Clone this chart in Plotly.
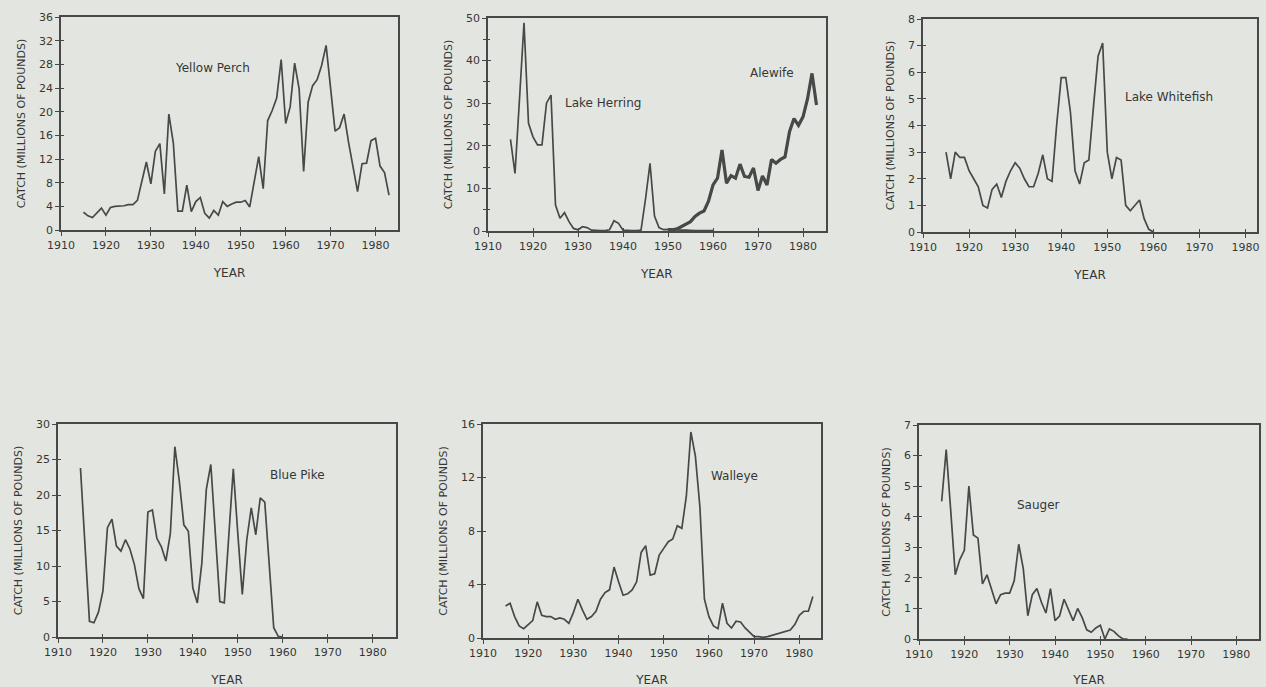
import plotly.graph_objects as go

# ---------------- data (millions of pounds) ----------------
perch_years = list(range(1915, 1984))
perch_catch = [3.0, 2.4, 2.1, 2.9, 3.7,
               2.5, 3.8, 4.0, 4.0, 4.1, 4.3, 4.3, 5.0, 8.2, 11.5,
               7.8, 13.3, 14.6, 6.1, 19.6, 14.7, 3.2, 3.2, 7.6, 3.1,
               4.8, 5.5, 2.8, 2.0, 3.3, 2.5, 4.8, 4.0, 4.4, 4.7,
               4.7, 5.0, 3.9, 8.0, 12.4, 7.0, 18.5, 20.2, 22.3, 28.8,
               18.0, 20.8, 28.2, 23.8, 9.9, 21.6, 24.4, 25.4, 27.8, 31.2,
               24.0, 16.7, 17.3, 19.6, 14.8, 10.3, 6.5, 11.2, 11.3, 15.1,
               15.5, 10.8, 9.7, 5.9]

herring_years = list(range(1915, 1961))
herring_catch = [21.5, 13.5, 31.0, 48.9, 25.3,
                 22.1, 20.2, 20.2, 30.0, 31.9, 6.1, 3.0, 4.3, 2.2, 0.6,
                 0.3, 1.0, 0.8, 0.2, 0.1, 0.1, 0.1, 0.3, 2.4, 1.8,
                 0.2, 0.1, 0.1, 0.1, 0.2, 7.5, 15.9, 3.5, 0.8, 0.3,
                 0.4, 0.3, 0.2, 0.2, 0.2, 0.1, 0.1, 0.1, 0.1, 0.1, 0.1]

alewife_years = list(range(1950, 1984))
alewife_catch = [0.3, 0.3, 0.5, 1.0, 1.5, 2.2, 3.4, 4.2, 4.7, 7.0,
                 10.8, 12.4, 19.0, 11.2, 13.0, 12.4, 15.7, 12.8, 12.6, 14.8,
                 9.5, 12.9, 10.8, 16.8, 15.9, 16.8, 17.4, 23.3, 26.4, 24.8,
                 26.8, 31.0, 37.0, 29.6]

whitefish_years = list(range(1915, 1961))
whitefish_catch = [3.0, 2.0, 3.0, 2.8, 2.8,
                   2.3, 2.0, 1.7, 1.0, 0.9, 1.6, 1.8, 1.3, 1.9, 2.3,
                   2.6, 2.4, 2.0, 1.7, 1.7, 2.2, 2.9, 2.0, 1.9, 4.0,
                   5.8, 5.8, 4.5, 2.3, 1.8, 2.6, 2.7, 4.7, 6.6, 7.1,
                   3.0, 2.0, 2.8, 2.7, 1.0, 0.8, 1.0, 1.2, 0.5, 0.1, 0.0]

bluepike_years = list(range(1915, 1961))
bluepike_catch = [23.8, 13.0, 2.2, 2.0, 3.5,
                  6.5, 15.4, 16.6, 12.8, 12.1, 13.7, 12.4, 10.2, 6.8, 5.4,
                  17.6, 17.9, 13.9, 12.7, 10.7, 14.6, 26.8, 21.9, 15.8, 14.9,
                  6.9, 4.8, 10.4, 20.8, 24.3, 14.5, 5.0, 4.8, 14.6, 23.7,
                  14.6, 6.0, 13.7, 18.2, 14.4, 19.6, 19.0, 10.0, 1.3, 0.1, 0.0]

walleye_years = list(range(1915, 1984))
walleye_catch = [2.4, 2.6, 1.6, 0.9, 0.7,
                 1.0, 1.3, 2.7, 1.7, 1.6, 1.6, 1.4, 1.5, 1.4, 1.1,
                 1.9, 2.9, 2.1, 1.4, 1.6, 2.0, 2.9, 3.4, 3.6, 5.3,
                 4.2, 3.2, 3.3, 3.6, 4.2, 6.4, 6.9, 4.7, 4.8, 6.2,
                 6.7, 7.2, 7.4, 8.4, 8.2, 10.6, 15.4, 13.6, 9.8, 2.9,
                 1.6, 0.9, 0.7, 2.6, 1.1, 0.75, 1.25, 1.2, 0.75, 0.4,
                 0.1, 0.1, 0.05, 0.1, 0.2, 0.25, 0.4, 0.5, 0.6, 1.0,
                 1.7, 2.0, 2.0, 3.1]

sauger_years = list(range(1915, 1957))
sauger_catch = [4.5, 6.2, 4.2, 2.1, 2.6,
                2.9, 5.0, 3.4, 3.3, 1.8, 2.1, 1.6, 1.15, 1.45, 1.5,
                1.5, 1.9, 3.1, 2.3, 0.76, 1.45, 1.65, 1.2, 0.85, 1.65,
                0.6, 0.75, 1.3, 0.95, 0.6, 1.0, 0.7, 0.3, 0.22, 0.36,
                0.45, 0.0, 0.33, 0.25, 0.1, 0.0, 0.0]

year_ticks = [1910, 1920, 1930, 1940, 1950, 1960, 1970, 1980]

# ---------------- styling / layout ----------------
W, H = 1266, 687
BG = "#e3e6e0"
INK = "#484848"
TXT = "#363636"
FONT = "DejaVu Sans"

# panel geometry in pixels: (x-left, x-right), (y-top, y-bottom), x max, y max, y dtick, y minor dtick
panels = [
    ((61, 398), (17, 230), 1985.0, 36, 4, None),
    ((488, 825.5), (18, 231), 1985.0, 50, 10, 5),
    ((923, 1257), (19, 232), 1982.5, 8, 1, None),
    ((58, 396), (424, 637), 1985.2, 30, 5, None),
    ((483, 821), (424, 638), 1984.8, 16, 4, None),
    ((919, 1259), (425, 639), 1985.0, 7, 1, None),
]

series = [
    (perch_years, perch_catch, 0, 1.7),
    (herring_years, herring_catch, 1, 1.7),
    (alewife_years, alewife_catch, 1, 3.2),
    (whitefish_years, whitefish_catch, 2, 1.7),
    (bluepike_years, bluepike_catch, 3, 1.7),
    (walleye_years, walleye_catch, 4, 1.7),
    (sauger_years, sauger_catch, 5, 1.7),
]

labels = [
    ("Yellow Perch", 0, 1943.8, 27.4),
    ("Lake Herring", 1, 1935.6, 30.0),
    ("Alewife", 1, 1973.1, 37.1),
    ("Lake Whitefish", 2, 1963.4, 5.07),
    ("Blue Pike", 3, 1963.3, 22.8),
    ("Walleye", 4, 1965.6, 12.1),
    ("Sauger", 5, 1936.3, 4.38),
]

NP = len(panels)


def sfx(i):
    return "" if i == 0 else str(i + 1)


fig = go.Figure()

for yrs, vals, p, w in series:
    fig.add_trace(go.Scatter(
        x=yrs, y=vals, mode="lines",
        line=dict(color=INK, width=w),
        xaxis="x" + sfx(p), yaxis="y" + sfx(p),
        showlegend=False, hoverinfo="skip"))

# empty traces so the overlay (inner tick) axes get drawn
for i in range(NP):
    o = str(NP + i + 1)
    fig.add_trace(go.Scatter(x=[], y=[], xaxis="x" + o, yaxis="y" + o,
                             showlegend=False, hoverinfo="skip"))

layout = dict(
    width=W, height=H, autosize=False,
    paper_bgcolor=BG, plot_bgcolor=BG,
    margin=dict(l=0, r=0, t=0, b=0, pad=0, autoexpand=False),
    font=dict(family=FONT, color=TXT, size=11),
    showlegend=False,
    annotations=[],
)

for i, ((xl, xr), (yt, yb), xmax, ymax, dt, mdt) in enumerate(panels):
    s = sfx(i)
    o = str(NP + i + 1)
    xdom = [xl / W, xr / W]
    ydom = [1 - yb / H, 1 - yt / H]
    layout["xaxis" + s] = dict(
        domain=xdom, anchor="y" + s, automargin=False,
        range=[1910, xmax], tickmode="array", tickvals=year_ticks,
        ticks="outside", ticklen=4, tickwidth=1.3, tickcolor=INK,
        showline=True, linecolor=INK, linewidth=1.6, mirror=True,
        showgrid=False, zeroline=False,
        tickfont=dict(size=11, family=FONT, color=TXT),
        title=dict(text="YEAR", font=dict(size=12, family=FONT, color=TXT), standoff=18),
    )
    ya = dict(
        domain=ydom, anchor="x" + s, automargin=False,
        range=[0, ymax], dtick=dt, tick0=0,
        ticks="outside", ticklen=4, tickwidth=1.3, tickcolor=INK,
        showline=True, linecolor=INK, linewidth=1.6, mirror=True,
        showgrid=False, zeroline=False,
        tickfont=dict(size=11, family=FONT, color=TXT),
        title=dict(text="CATCH (MILLIONS OF POUNDS)", font=dict(size=11, family=FONT, color=TXT), standoff=11),
    )
    if mdt:
        ya["minor"] = dict(dtick=mdt, ticks="outside", ticklen=3, tickcolor=INK)
    layout["yaxis" + s] = ya

    # overlay axes: inner half of the crossing tick marks
    layout["xaxis" + o] = dict(
        domain=xdom, anchor="y" + o, overlaying="x" + s, automargin=False,
        range=[1910, xmax], tickmode="array", tickvals=year_ticks,
        ticks="inside", ticklen=3, tickwidth=1.3, tickcolor=INK,
        showticklabels=False, showline=False, showgrid=False, zeroline=False)
    yo = dict(
        domain=ydom, anchor="x" + o, overlaying="y" + s, automargin=False,
        range=[0, ymax], dtick=dt, tick0=0,
        ticks="inside", ticklen=3, tickwidth=1.3, tickcolor=INK,
        showticklabels=False, showline=False, showgrid=False, zeroline=False)
    if mdt:
        yo["minor"] = dict(dtick=mdt, ticks="inside", ticklen=2, tickcolor=INK)
    layout["yaxis" + o] = yo

for text, p, x, y in labels:
    s = sfx(p)
    layout["annotations"].append(dict(
        text=text, x=x, y=y, xref="x" + s, yref="y" + s,
        showarrow=False, font=dict(size=12, family=FONT, color=TXT)))

fig.update_layout(**layout)
fig.write_html("out.html",
               config={"displayModeBar": False},
               post_script="document.body.style.margin='0px';document.body.style.overflow='hidden';document.body.style.background='" + BG + "';")
